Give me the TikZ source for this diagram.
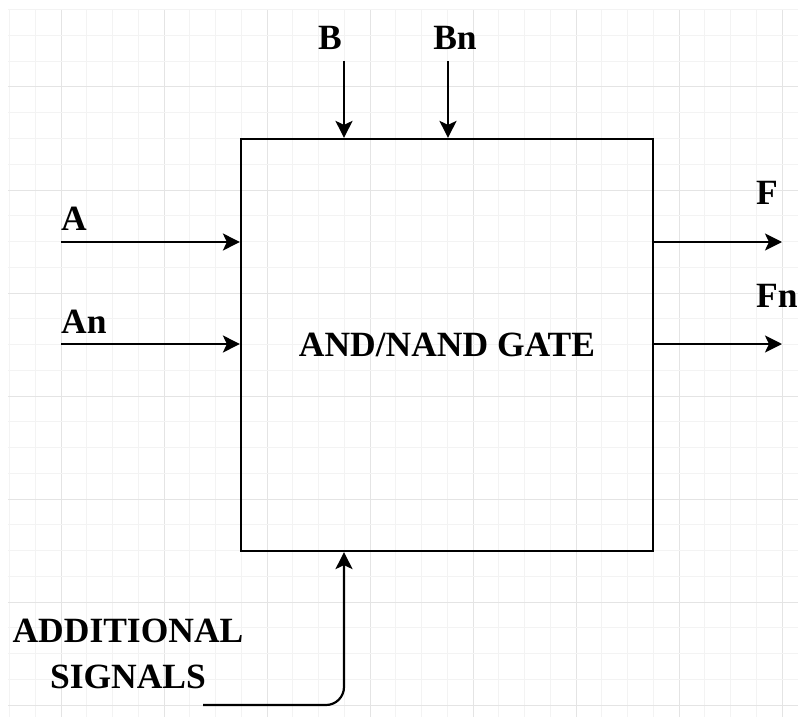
\documentclass[tikz,border=0pt]{standalone}
\usepackage{fontspec}
\setmainfont{Liberation Serif}
\usetikzlibrary{arrows.meta}
\definecolor{gridmajor}{HTML}{E4E4E4}
\definecolor{gridminor}{HTML}{F3F3F3}
\begin{document}
\begin{tikzpicture}[x=1pt,y=-1pt,
  lbl/.style={font=\fontsize{35.5}{46}\selectfont\bfseries, inner sep=0pt},
  arr/.style={line width=2.2pt, -{Stealth[length=17pt,width=17pt,inset=4pt]}},
  gatebox/.style={draw, line width=2.2pt, minimum width=412pt, minimum height=412pt, inner sep=0pt}]
\useasboundingbox (0,0) rectangle (798,717);
% grid
\foreach \i in {0,...,30} {
  \pgfmathsetmacro{\gx}{9.5+\i*25.75}
  \pgfmathtruncatemacro{\gm}{mod(\i,4)}
  \ifnum\gm=2
    \draw[gridmajor, line width=1pt] (\gx,9) -- (\gx,717);
  \else
    \draw[gridminor, line width=1pt] (\gx,9) -- (\gx,717);
  \fi
}
\foreach \i in {0,...,27} {
  \pgfmathsetmacro{\gy}{9.75+\i*25.75}
  \pgfmathtruncatemacro{\gm}{mod(\i,4)}
  \ifnum\gm=3
    \draw[gridmajor, line width=1pt] (8,\gy) -- (798,\gy);
  \else
    \draw[gridminor, line width=1pt] (8,\gy) -- (798,\gy);
  \fi
}
% gate
\node[gatebox, lbl] (gate) at (447,345) {AND/NAND GATE};
% free ends
\coordinate (a0) at (61,242);
\coordinate (an0) at (61,344);
\coordinate (b0) at (344,61);
\coordinate (bn0) at (448,61);
\coordinate (f1) at (782,242);
\coordinate (fn1) at (782,344);
\coordinate (s0) at (203,705);
% connectors
\draw[arr] (a0) -- (a0 -| gate.west);
\draw[arr] (an0) -- (an0 -| gate.west);
\draw[arr] (b0) -- (b0 |- gate.north);
\draw[arr] (bn0) -- (bn0 |- gate.north);
\draw[arr] (f1 -| gate.east) -- (f1);
\draw[arr] (fn1 -| gate.east) -- (fn1);
\draw[arr, rounded corners=18pt] (s0) -| (b0 |- gate.south);
% labels
\node[lbl, anchor=base west] (la) at (61,230) {A};
\node[lbl, anchor=base west] (lan) at (61,333) {An};
\node[lbl, anchor=base] (lb) at (330,50) {B};
\node[lbl, anchor=base] (lbn) at (455,50) {Bn};
\node[lbl, anchor=base west] (lf) at (756,204) {F};
\node[lbl, anchor=base west] (lfn) at (756,307) {Fn};
\node[lbl, align=center] (ls) at (128,654) {ADDITIONAL\\SIGNALS};
\end{tikzpicture}
\end{document}
